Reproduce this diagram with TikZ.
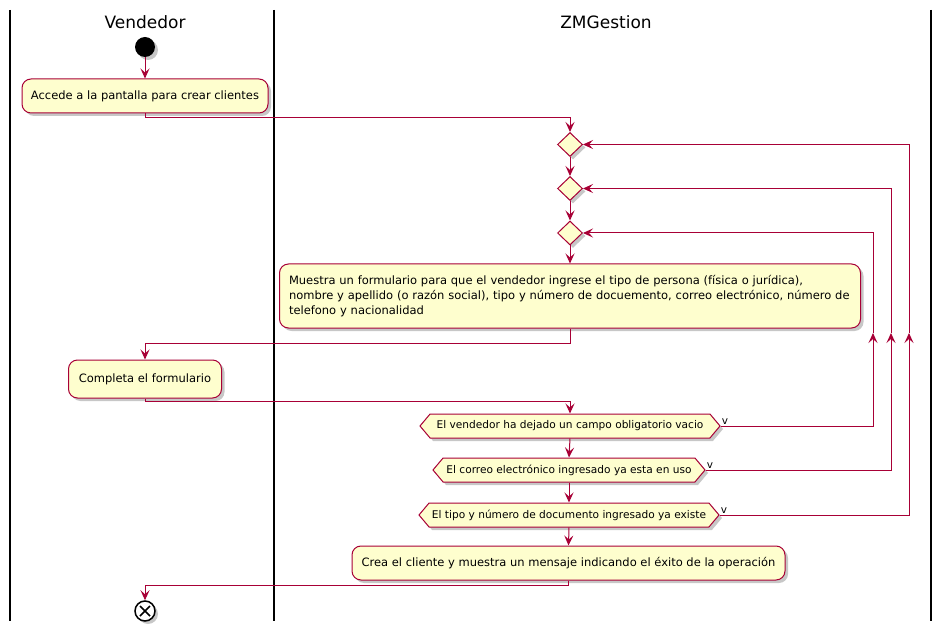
\documentclass[tikz,border=0pt]{standalone}
\usepackage{fontspec}
\setmainfont{DejaVu Sans}
\usetikzlibrary{arrows.meta,shapes.geometric,shapes.symbols,shadows,calc}
\definecolor{pred}{HTML}{A80036}
\definecolor{pyel}{HTML}{FEFECE}
\tikzset{
  shad/.style={drop shadow={shadow xshift=3pt,shadow yshift=-3pt,fill=black,opacity=0.22}},
  act/.style={draw=pred,fill=pyel,line width=1pt,rounded corners=9pt,shad,inner sep=0pt,font=\fontsize{11.5}{15}\selectfont},
  dia/.style={draw=pred,fill=pyel,line width=1pt,diamond,inner sep=0pt,minimum width=25pt,minimum height=24pt,shad},
  hexa/.style={draw=pred,fill=pyel,line width=1pt,signal,signal to=west and east,signal pointer angle=100,inner sep=0pt,minimum height=24pt,shad,font=\fontsize{10.6}{12}\selectfont},
  flow/.style={draw=pred,line width=1pt,-{Stealth[length=10pt,width=9pt,inset=4pt]}},
  plain/.style={draw=pred,line width=1pt},
  lane/.style={draw=black,line width=1.6pt},
  ttl/.style={font=\fontsize{17}{20}\selectfont},
  vlab/.style={font=\fontsize{10.5}{12}\selectfont,inner sep=1pt,anchor=south west},
}
\begin{document}
\begin{tikzpicture}[x=1pt,y=-1pt]
\useasboundingbox[fill=white] (0,0) rectangle (943,631);
% lanes
\draw[lane] (10,10) -- (10,621);
\draw[lane] (274,10) -- (274,621);
\draw[lane] (931,10) -- (931,621);
\node[ttl] (t1) at (145,22) {Vendedor};
\node[ttl] (t2) at (606,22) {ZMGestion};
% nodes
\node[circle,fill=black,minimum size=20pt,inner sep=0pt,shad] (start) at (145,47) {};
\node[act,minimum width=246pt,minimum height=34pt] (acc) at (145,96) {Accede a la pantalla para crear clientes};
\node[dia] (d1) at (570,144.5) {};
\node[dia] (d2) at (570,188.5) {};
\node[dia] (d3) at (570,233) {};
\node[act,minimum width=581pt,minimum height=64pt,align=left,text width=562pt] (mue) at (570,296) {Muestra un formulario para que el vendedor ingrese el tipo de persona (física o jurídica),\\nombre y apellido (o razón social), tipo y número de docuemento, correo electrónico, número de\\telefono y nacionalidad};
\node[act,minimum width=153pt,minimum height=38pt] (comp) at (145,379) {Completa el formulario};
\node[hexa,minimum width=300pt] (h1) at (570,426) {El vendedor ha dejado un campo obligatorio vacio};
\node[hexa,minimum width=272pt] (h2) at (569,470) {El correo electrónico ingresado ya esta en uso};
\node[hexa,minimum width=300pt] (h3) at (569,515) {El tipo y número de documento ingresado ya existe};
\node[act,minimum width=433pt,minimum height=34pt] (crea) at (568.5,563) {Crea el cliente y muestra un mensaje indicando el éxito de la operación};
\node[circle,draw=black,fill=white,line width=1.5pt,minimum size=20pt,inner sep=0pt,shad,
  path picture={\draw[black,line width=1.5pt] (path picture bounding box.south west)++(5pt,5pt) -- ++(10pt,10pt) ++(-10pt,0) -- ++(10pt,-10pt);}] (fin) at (145,611) {};
% v labels
\node[vlab] (v1) at (h1.east) {v};
\node[vlab] (v2) at (h2.east) {v};
\node[vlab] (v3) at (h3.east) {v};
% loop coordinates
\coordinate (a1) at (873,333);
\coordinate (a2) at (891,333);
\coordinate (a3) at (909,333);
% connectors
\draw[flow] (start) -- (acc);
\draw[flow] (acc.south) -- ++(0,4) -| (d1.north);
\draw[flow] (d1.south) -- (d2.north);
\draw[flow] (d2.south) -- (d3.north);
\draw[flow] (d3.south) -- (mue.north);
\draw[flow] (mue.south) -- ++(0,15) -| (comp.north);
\draw[flow] (comp.south) -- ++(0,3) -| (h1.north);
\draw[flow] (h1.south) -- (h2.north);
\draw[flow] (h2.south) -- (h3.north);
\draw[flow] (h3.south) -- (crea.north);
\draw[flow] (crea.south) -- ++(0,5) -| (fin.north);
% loops
\draw[flow] (h1.east) -| (a1);
\draw[flow] (a1) |- (d3.east);
\draw[flow] (h2.east) -| (a2);
\draw[flow] (a2) |- (d2.east);
\draw[flow] (h3.east) -| (a3);
\draw[flow] (a3) |- (d1.east);
\end{tikzpicture}
\end{document}
